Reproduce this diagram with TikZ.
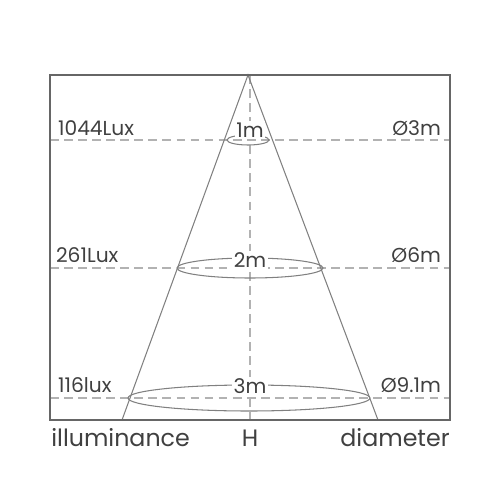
\documentclass[tikz,border=0pt]{standalone}
\usepackage{fontspec}
\setmainfont{Poppins}
\tikzset{
  >=latex,
}
\tikzstyle{frame}=[gray!80!black,line width=.8pt]
\tikzstyle{beam}=[gray,line width=.6pt]
\tikzstyle{guide}=[gray!60,dashed,dash pattern=on 5pt off 3pt,line width=.6pt]
\tikzstyle{ring}=[gray,line width=.6pt]
\tikzstyle{every node}=[text=black!75,font=\fontsize{11.5}{12}\selectfont]
\tikzstyle{sidelabel}=[inner sep=1pt]
\tikzstyle{heightlabel}=[fill=white,inner sep=1pt]
\tikzstyle{footlabel}=[font=\fontsize{13.5}{15}\selectfont,inner sep=0pt]

\begin{document}
\begin{tikzpicture}[x=0.02cm,y=-0.02cm]
    \useasboundingbox (0,0) rectangle (500,500);
    \coordinate (apex) at (248,75);
    \coordinate (baseL) at (122,420);
    \coordinate (baseR) at (378,420);
    % dashed guides
    \draw[guide] (250,75)--(250,420);
    \draw[guide] (50,140)--(450,140);
    \draw[guide] (50,268)--(450,268);
    \draw[guide] (50,398)--(450,398);
    % light cone
    \draw[beam] (baseL)--(apex)--(baseR);
    \draw[ring] (248,140) ellipse (21 and 5);
    \draw[ring] (250,268) ellipse (73 and 10);
    \draw[ring] (249,398) ellipse (121 and 13);
    \draw[frame] (50,75) rectangle (450,420);
    % heights
    \node[heightlabel] (h1) at (250,130) {1m};
    \node[heightlabel] (h2) at (250,260) {2m};
    \node[heightlabel] (h3) at (250,386) {3m};
    % illuminance
    \node[sidelabel,anchor=base west] (lux1) at (56,135) {1044Lux};
    \node[sidelabel,anchor=base west] (lux2) at (54,262) {261Lux};
    \node[sidelabel,anchor=base west] (lux3) at (56,392) {116lux};
    % diameters
    \node[sidelabel,anchor=base east] (dia1) at (443,135) {Ø3m};
    \node[sidelabel,anchor=base east] (dia2) at (443,262) {Ø6m};
    \node[sidelabel,anchor=base east] (dia3) at (443,392) {Ø9.1m};
    % bottom captions
    \node[footlabel,anchor=base west] (illum) at (51,446) {illuminance};
    \node[footlabel,anchor=base] (hgt) at (250,446) {H};
    \node[footlabel,anchor=base east] (diam) at (450,446) {diameter};
\end{tikzpicture}
\end{document}
